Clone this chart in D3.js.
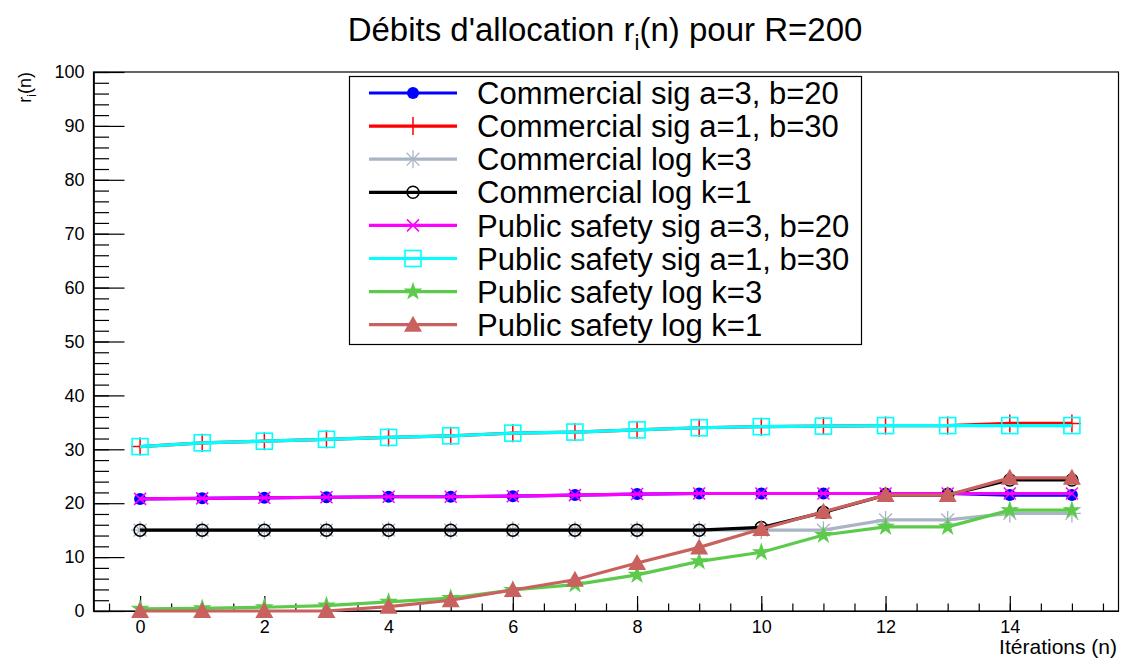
<!DOCTYPE html>
<html>
<head>
<meta charset="utf-8">
<script src="https://cdn.jsdelivr.net/npm/d3@7"></script>
<style>
  body { margin: 0; background: #fff; }
  svg { font-family: "Liberation Sans", Arial, Helvetica, sans-serif; }
</style>
</head>
<body>
<svg width="1124" height="661"></svg>
<script>
// iterations 0..15
var iterations = d3.range(0, 16);

var comSigA3 = [20.8, 20.9, 21.0, 21.1, 21.2, 21.2, 21.3, 21.5, 21.7, 21.8, 21.8, 21.8, 21.8, 21.8, 21.5, 21.5];
var comSigA1 = [30.5, 31.2, 31.5, 31.85, 32.2, 32.5, 33.0, 33.2, 33.6, 34.0, 34.2, 34.3, 34.4, 34.4, 34.8, 34.8];
var comLogK3 = [15, 15, 15, 15, 15, 15, 15, 15, 15, 15, 15.0, 15.0, 16.9, 16.9, 18.1, 18.1];
var comLogK1 = [15, 15, 15, 15, 15, 15, 15, 15, 15, 15, 15.5, 18.3, 21.5, 21.5, 24.3, 24.3];
var psSigA3  = [20.8, 20.9, 21.0, 21.1, 21.2, 21.2, 21.3, 21.5, 21.7, 21.8, 21.8, 21.8, 21.8, 21.8, 21.8, 21.8];
var psSigA1  = [30.5, 31.2, 31.5, 31.85, 32.2, 32.5, 33.0, 33.2, 33.6, 34.0, 34.2, 34.3, 34.4, 34.4, 34.4, 34.4];
var psLogK3  = [0.4, 0.5, 0.7, 1.0, 1.7, 2.4, 3.9, 4.9, 6.7, 9.2, 10.9, 14.1, 15.6, 15.6, 18.7, 18.7];
var psLogK1  = [0, 0, 0, 0, 0.8, 2.0, 3.9, 5.8, 8.9, 11.8, 15.2, 18.4, 21.5, 21.5, 24.7, 24.7];

var seriesNames = [
  "Commercial sig a=3, b=20",
  "Commercial sig a=1, b=30",
  "Commercial log k=3",
  "Commercial log k=1",
  "Public safety sig a=3, b=20",
  "Public safety sig a=1, b=30",
  "Public safety log k=3",
  "Public safety log k=1"
];
var seriesValues = [comSigA3, comSigA1, comLogK3, comLogK1, psSigA3, psSigA1, psLogK3, psLogK1];
var seriesColors = ["#0000ff", "#ff0000", "#a9b5c4", "#000000", "#ff00ff", "#00ffff", "#5ccb4c", "#c9625f"];
var seriesMarkers = ["dot", "plus", "aster", "ocircle", "cross", "osquare", "star", "triangle"];

var xTicks = [0, 2, 4, 6, 8, 10, 12, 14];
var yTicks = [0, 10, 20, 30, 40, 50, 60, 70, 80, 90, 100];

var svg = d3.select("svg"),
    width = +svg.attr("width"),
    height = +svg.attr("height");

var x = d3.scaleLinear().domain([-0.75, 15.75]).range([93.5, 1118.5]);
var y = d3.scaleLinear().domain([0, 100]).range([611, 72]);

// frame
svg.append("rect")
    .attr("x", x.range()[0]).attr("y", y.range()[1])
    .attr("width", x.range()[1] - x.range()[0])
    .attr("height", y.range()[0] - y.range()[1])
    .attr("fill", "none").attr("stroke", "#000").attr("stroke-width", 1.2);

// y axis
svg.append("g")
    .attr("transform", "translate(" + x.range()[0] + ",0)")
    .call(d3.axisLeft(y).tickValues(yTicks).tickSize(-31).tickSizeOuter(0).tickPadding(9));
svg.append("g")
    .attr("transform", "translate(" + x.range()[0] + ",0)")
    .call(d3.axisLeft(y).tickValues(d3.range(0, 101, 2)).tickSize(-15.5).tickSizeOuter(0).tickFormat(""));

// x axis
svg.append("g")
    .attr("transform", "translate(0," + y.range()[0] + ")")
    .call(d3.axisBottom(x).tickValues(xTicks).tickSize(-15).tickSizeOuter(0).tickPadding(9));
svg.append("g")
    .attr("transform", "translate(0," + y.range()[0] + ")")
    .call(d3.axisBottom(x).tickValues(d3.range(-0.5, 15.6, 0.5)).tickSize(-7.5).tickSizeOuter(0).tickFormat(""));

svg.selectAll(".domain").attr("stroke", "#000").attr("stroke-width", 1.2);
svg.selectAll(".tick line").attr("stroke", "#000").attr("stroke-width", 1.2);
svg.selectAll(".tick text").attr("font-size", 18).attr("fill", "#000")
    .attr("font-family", "Liberation Sans, Arial, sans-serif");

// markers
function marker(sel, kind, color) {
  if (kind == "dot") {
    sel.append("circle").attr("r", 6).attr("fill", color);
  } else if (kind == "plus") {
    sel.append("path").attr("d", "M-9,0H9M0,-9V9").attr("stroke", color).attr("stroke-width", 1.5).attr("fill", "none");
  } else if (kind == "aster") {
    sel.append("path").attr("d", "M-9,0H9M0,-9V9M-6.4,-6.4L6.4,6.4M-6.4,6.4L6.4,-6.4").attr("stroke", color).attr("stroke-width", 1.3).attr("fill", "none");
  } else if (kind == "ocircle") {
    sel.append("circle").attr("r", 6).attr("fill", "none").attr("stroke", color).attr("stroke-width", 1.5);
  } else if (kind == "cross") {
    sel.append("path").attr("d", "M-6,-6L6,6M-6,6L6,-6").attr("stroke", color).attr("stroke-width", 1.5).attr("fill", "none");
  } else if (kind == "osquare") {
    sel.append("rect").attr("x", -8).attr("y", -8).attr("width", 16).attr("height", 16)
        .attr("fill", "none").attr("stroke", color).attr("stroke-width", 1.6);
  } else if (kind == "star") {
    sel.append("path").attr("d", d3.symbol(d3.symbolStar, 110)()).attr("fill", color);
  } else if (kind == "triangle") {
    sel.append("path").attr("d", "M0,-9L9,7L-9,7Z").attr("fill", color);
  }
}

var line = d3.line()
    .x(function(d, i) { return x(iterations[i]); })
    .y(function(d) { return y(d); });

seriesValues.forEach(function(vals, s) {
  var g = svg.append("g").attr("class", "series");
  g.append("path")
      .datum(vals)
      .attr("d", line)
      .attr("fill", "none")
      .attr("stroke", seriesColors[s])
      .attr("stroke-width", 3.2);
  g.selectAll("g.pt")
    .data(vals)
    .enter().append("g")
      .attr("class", "pt")
      .attr("transform", function(d, i) { return "translate(" + x(iterations[i]) + "," + y(d) + ")"; })
      .each(function() { marker(d3.select(this), seriesMarkers[s], seriesColors[s]); });
});

// legend
var leg = svg.append("g");
leg.append("rect")
    .attr("x", 349.5).attr("y", 76.5).attr("width", 512).attr("height", 268)
    .attr("fill", "#fff").attr("stroke", "#000").attr("stroke-width", 1.2);
seriesNames.forEach(function(name, s) {
  var ly = 93 + s * 33.1;
  var row = leg.append("g");
  row.append("line")
      .attr("x1", 369).attr("x2", 457).attr("y1", ly).attr("y2", ly)
      .attr("stroke", seriesColors[s]).attr("stroke-width", 3.2);
  marker(row.append("g").attr("transform", "translate(413," + ly + ")"), seriesMarkers[s], seriesColors[s]);
  row.append("text")
      .attr("x", 477).attr("y", ly).attr("dy", "0.36em")
      .attr("font-size", 31)
      .text(name);
});

// title
var title = svg.append("text")
    .attr("x", 605).attr("y", 41)
    .attr("text-anchor", "middle")
    .attr("font-size", 33);
title.append("tspan").text("Débits d'allocation r");
title.append("tspan").attr("font-size", 22).attr("dy", 9).text("i");
title.append("tspan").attr("dy", -9).text("(n) pour R=200");

// axis titles
svg.append("text")
    .attr("x", 1117).attr("y", 654)
    .attr("text-anchor", "end")
    .attr("font-size", 21)
    .text("Itérations (n)");

var yt = svg.append("text")
    .attr("transform", "translate(31,72) rotate(-90)")
    .attr("text-anchor", "end")
    .attr("font-size", 18);
yt.append("tspan").text("r");
yt.append("tspan").attr("font-size", 12).attr("dy", 5).text("i");
yt.append("tspan").attr("dy", -5).text("(n)");
</script>
</body>
</html>
